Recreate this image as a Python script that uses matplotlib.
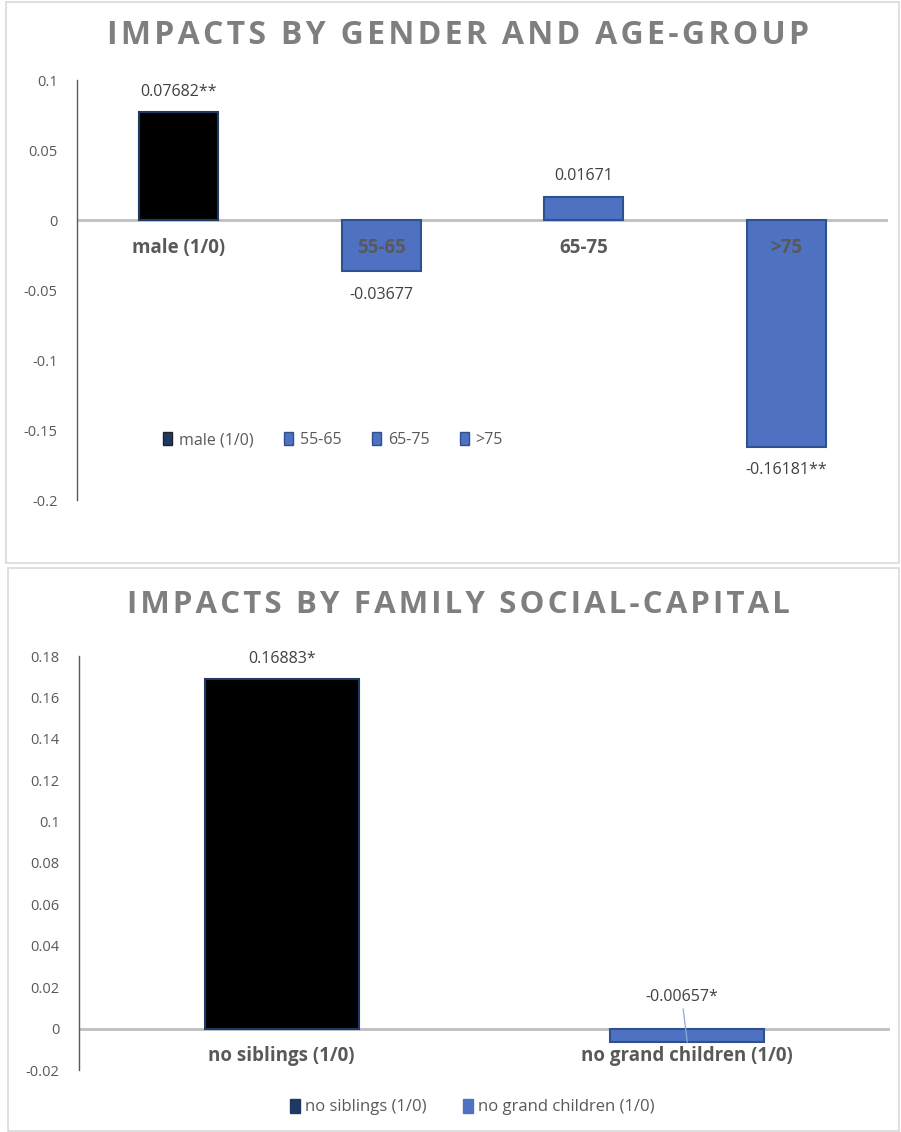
import matplotlib
matplotlib.use('Agg')
import matplotlib.pyplot as plt
from matplotlib.patches import Rectangle, Patch

# Estimated marginal effects, two panels
age_labels = ['male (1/0)', '55-65', '65-75', '>75']
age_values = [0.07682, -0.03677, 0.01671, -0.16181]
age_texts = ['0.07682**', '-0.03677', '0.01671', '-0.16181**']

family_labels = ['no siblings (1/0)', 'no grand children (1/0)']
family_values = [0.16883, -0.00657]
family_texts = ['0.16883*', '-0.00657*']

GRAY = '#595959'
BLUE = '#4F71C2'
BLUE_EDGE = '#2F528F'
NAVY = '#1F3864'
FONT = ['Open Sans', 'DejaVu Sans']

plt.rcParams['font.family'] = FONT

W, H = 901, 1132
fig = plt.figure(figsize=(W / 100, H / 100), dpi=100)


def px_box(x0, y0, x1, y1):
    """Pixel box (top-left origin) -> figure fraction rect."""
    return [x0 / W, 1 - y1 / H, (x1 - x0) / W, (y1 - y0) / H]


def tracked(s, gap='\u200a'):
    """Spread the letters of a title apart."""
    return gap.join(s)


# panel frames
for (x0, y0, x1, y1) in [(6, 2, 899, 563), (8, 568, 899, 1131)]:
    r = Rectangle((x0 / W, 1 - y1 / H), (x1 - x0) / W, (y1 - y0) / H,
                  transform=fig.transFigure, fill=False,
                  edgecolor='#D9D9D9', linewidth=1.2)
    fig.patches.append(r)


def style_axes(ax):
    for s in ['top', 'right', 'bottom']:
        ax.spines[s].set_visible(False)
    ax.spines['left'].set_color(GRAY)
    ax.spines['left'].set_linewidth(1.0)
    ax.tick_params(axis='y', length=0, pad=14, labelsize=10.5, labelcolor=GRAY)
    ax.set_xticks([])
    ax.axhline(0, color='#BFBFBF', linewidth=2, zorder=1)


def draw_bars(ax, labels, values, width):
    x = list(range(len(labels)))
    faces = ['black'] + [BLUE] * (len(labels) - 1)
    edges = [NAVY] + [BLUE_EDGE] * (len(labels) - 1)
    bars = ax.bar(x, values, width=width, color=faces, edgecolor=edges,
                  linewidth=1.5, zorder=2)
    for i, lab in enumerate(labels):
        ax.annotate(lab, xy=(i, 0), xytext=(0, -20), textcoords='offset points',
                    ha='center', va='center', fontsize=13.5, fontweight='bold',
                    color=GRAY, zorder=3)
    return bars


# ---------- top panel: gender and age-group ----------
ax1 = fig.add_axes(px_box(77, 80, 888, 500))
style_axes(ax1)
bars1 = draw_bars(ax1, age_labels, age_values, 0.39)
ax1.set_xlim(-0.5, 3.5)
ax1.set_ylim(-0.2, 0.1)
ax1.set_yticks([0.1, 0.05, 0, -0.05, -0.1, -0.15, -0.2])
ax1.set_yticklabels(['0.1', '0.05', '0', '-0.05', '-0.1', '-0.15', '-0.2'])
for i, (v, t) in enumerate(zip(age_values, age_texts)):
    off = 9 if v > 0 else -11
    ax1.annotate(t, xy=(i, v), xytext=(0, off), textcoords='offset points',
                 ha='center', va='bottom' if v > 0 else 'top',
                 fontsize=11.5, color='#404040')

fig.text(458 / W, 1 - 36 / H, tracked('IMPACTS BY GENDER AND AGE-GROUP'),
         ha='center', va='center', fontsize=23, fontweight='bold', color='#7F7F7F')

handles1 = [Patch(facecolor=NAVY, edgecolor='#222222', label=age_labels[0])] + \
           [Patch(facecolor=BLUE, edgecolor=BLUE_EDGE, label=l) for l in age_labels[1:]]
fig.legend(handles=handles1, loc='center', bbox_to_anchor=(333 / W, 1 - 440 / H),
           ncol=4, frameon=False, fontsize=11.5, handlelength=0.6, handleheight=0.9,
           handletextpad=0.4, columnspacing=1.9, labelcolor=GRAY)

# ---------- bottom panel: family social-capital ----------
ax2 = fig.add_axes(px_box(79, 656, 890, 1070))
style_axes(ax2)
bars2 = draw_bars(ax2, family_labels, family_values, 0.38)
ax2.set_xlim(-0.5, 1.5)
ax2.set_ylim(-0.02, 0.18)
ticks2 = [0.18, 0.16, 0.14, 0.12, 0.1, 0.08, 0.06, 0.04, 0.02, 0, -0.02]
ax2.set_yticks(ticks2)
ax2.set_yticklabels([f'{t:g}' for t in ticks2])

ax2.annotate(family_texts[0], xy=(0, family_values[0]), xytext=(0, 9),
             textcoords='offset points', ha='center', va='bottom',
             fontsize=11.5, color='#404040')
ax2.annotate(family_texts[1], xy=(1, family_values[1]), xytext=(-4, 27),
             textcoords='offset points', ha='center', va='bottom',
             fontsize=11.5, color='#404040',
             arrowprops=dict(arrowstyle='-', color='#8EA9DB', linewidth=0.9,
                             shrinkA=1, shrinkB=0),
             annotation_clip=False)

fig.text(458 / W, 1 - 605 / H, tracked('IMPACTS BY FAMILY SOCIAL-CAPITAL'),
         ha='center', va='center', fontsize=22.5, fontweight='bold', color='#7F7F7F')

handles2 = [Patch(facecolor=NAVY, edgecolor=NAVY, label=family_labels[0]),
            Patch(facecolor=BLUE, edgecolor=BLUE, label=family_labels[1])]
fig.legend(handles=handles2, loc='center', bbox_to_anchor=(472 / W, 1 - 1107 / H),
           ncol=2, frameon=False, fontsize=12, handlelength=0.6, handleheight=0.9,
           handletextpad=0.3, columnspacing=2.2, labelcolor=GRAY)

fig.savefig('out.png', dpi=100)
